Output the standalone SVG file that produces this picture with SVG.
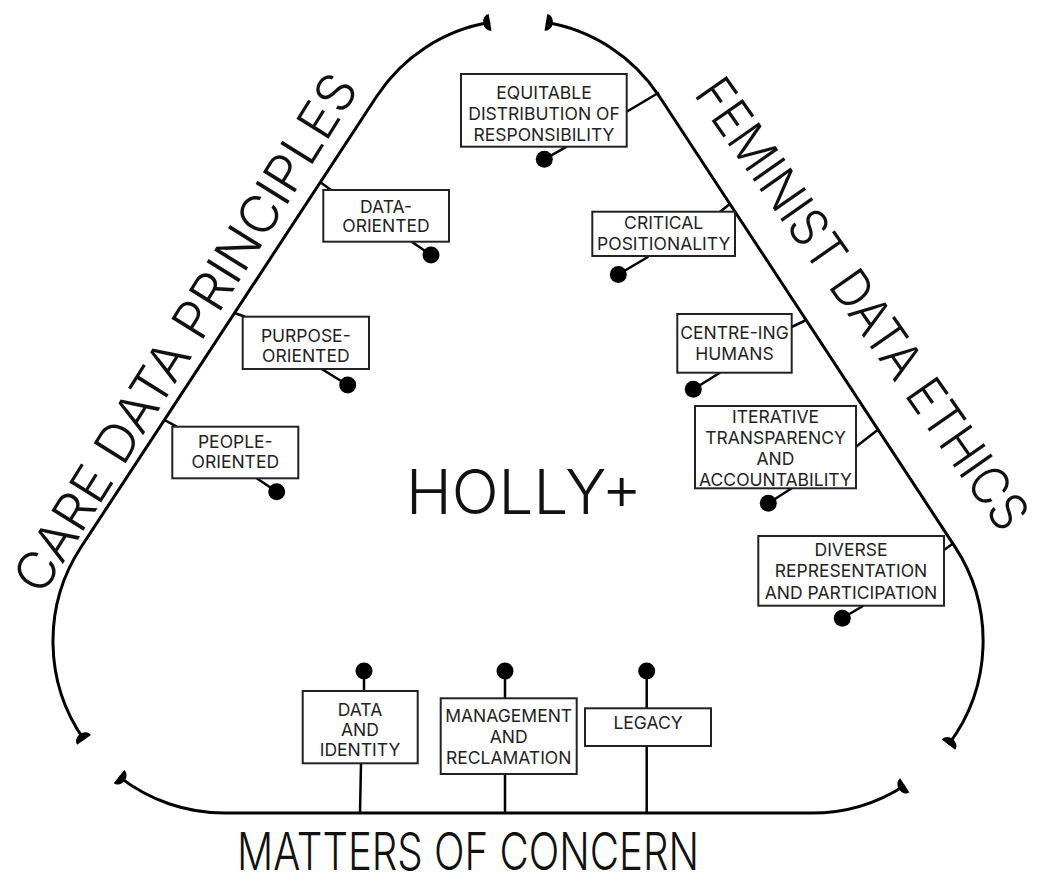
<svg xmlns="http://www.w3.org/2000/svg" width="1037" height="875" viewBox="0 0 1037 875">
<style>
.frame{fill:none;stroke:#000;stroke-width:3;marker-start:url(#cap);marker-end:url(#cap)}
.box{fill:#fff;stroke:#222;stroke-width:2}
.con{stroke:#000;stroke-width:2.5;fill:none}
.dot{fill:#000}
.lbl{font-family:Inter,"Liberation Sans",Arial,sans-serif;font-size:17.5px;fill:#222;text-anchor:middle}
.big{font-family:Inter,"Liberation Sans",Arial,sans-serif;font-weight:300;font-size:52px;fill:#111}
</style>
<defs>
<marker id="cap" viewBox="-8 -10 9 20" refX="0" refY="0" markerWidth="9" markerHeight="20" orient="auto-start-reverse" markerUnits="userSpaceOnUse">
<path d="M0,-8.5 A7,8.5 0 0 0 0,8.5 Z" fill="#000"/>
</marker>
</defs>
<rect width="1037" height="875" fill="#fff"/>
<g id="frame">
<path class="frame" d="M490.1,22.3 A169,169 0 0 0 376.6,96.5 L81.1,547 A172,172 0 0 0 84,739.8"/>
<path class="frame" d="M119,776.6 A172,172 0 0 0 224.9,813.1 L811.1,813.1 A172,172 0 0 0 904.8,785.4"/>
<path class="frame" d="M545.9,22.3 A169,169 0 0 1 659.4,96.5 L955,546.9 A172,172 0 0 1 948.5,744.6"/>
</g>
<g id="connectors">
<line class="con" x1="626.7" y1="111.7" x2="659" y2="92.5"/>
<line class="con" x1="320.1" y1="182" x2="331" y2="190"/>
<line class="con" x1="234.5" y1="313" x2="245" y2="316.7"/>
<line class="con" x1="164.5" y1="420" x2="176.7" y2="426.7"/>
<line class="con" x1="720" y1="211.7" x2="730.5" y2="203.5"/>
<line class="con" x1="791.7" y1="327" x2="806.3" y2="320"/>
<line class="con" x1="856" y1="446.7" x2="878.5" y2="429.3"/>
<line class="con" x1="944" y1="550" x2="953" y2="543.5"/>
<line class="con" x1="566.7" y1="146.7" x2="544.3" y2="159.3"/>
<line class="con" x1="411.7" y1="241.7" x2="431" y2="255"/>
<line class="con" x1="321.7" y1="369" x2="347.7" y2="385"/>
<line class="con" x1="256.7" y1="478.3" x2="276.7" y2="491.7"/>
<line class="con" x1="648.3" y1="256.7" x2="618.3" y2="274.5"/>
<line class="con" x1="720" y1="372.7" x2="693.3" y2="389.3"/>
<line class="con" x1="791.7" y1="488.3" x2="768.3" y2="503.3"/>
<line class="con" x1="863.3" y1="605.7" x2="842.3" y2="618.3"/>
<line class="con" x1="364" y1="671" x2="364" y2="691"/>
<line class="con" x1="361" y1="763.3" x2="360" y2="813"/>
<line class="con" x1="505" y1="671" x2="505" y2="698.3"/>
<line class="con" x1="505" y1="774" x2="505" y2="813"/>
<line class="con" x1="646.7" y1="671" x2="646.7" y2="708.3"/>
<line class="con" x1="646.7" y1="746" x2="646.7" y2="813"/>
<circle class="dot" cx="544.3" cy="159.3" r="8.5"/>
<circle class="dot" cx="431" cy="255" r="8.5"/>
<circle class="dot" cx="347.7" cy="385" r="8.5"/>
<circle class="dot" cx="276.7" cy="491.7" r="8.5"/>
<circle class="dot" cx="618.3" cy="274.5" r="8.5"/>
<circle class="dot" cx="693.3" cy="389.3" r="8.5"/>
<circle class="dot" cx="768.3" cy="503.3" r="8.5"/>
<circle class="dot" cx="842.3" cy="618.3" r="8.5"/>
<circle class="dot" cx="364" cy="671" r="8.5"/>
<circle class="dot" cx="505" cy="671" r="8.5"/>
<circle class="dot" cx="646.7" cy="671" r="8.5"/>
</g>
<g id="equitable">
<rect class="box" x="461" y="74" width="165.7" height="72.7"/>
<text class="lbl" x="544" y="98.7">EQUITABLE</text>
<text class="lbl" x="544" y="119.7">DISTRIBUTION OF</text>
<text class="lbl" x="544" y="140.7">RESPONSIBILITY</text>
</g>
<g id="data-oriented">
<rect class="box" x="323.3" y="190" width="125.7" height="51.7"/>
<text class="lbl" x="386" y="213.1">DATA-</text>
<text class="lbl" x="386" y="232.1">ORIENTED</text>
</g>
<g id="purpose-oriented">
<rect class="box" x="242.7" y="316.7" width="126.3" height="52.3"/>
<text class="lbl" x="305.8" y="342.1">PURPOSE-</text>
<text class="lbl" x="305.8" y="362.4">ORIENTED</text>
</g>
<g id="people-oriented">
<rect class="box" x="172.3" y="426.7" width="126" height="51.6"/>
<text class="lbl" x="235.3" y="448.1">PEOPLE-</text>
<text class="lbl" x="235.3" y="468.1">ORIENTED</text>
</g>
<g id="critical-positionality">
<rect class="box" x="592.3" y="211.7" width="142.7" height="44.3"/>
<text class="lbl" x="663.7" y="229.1">CRITICAL</text>
<text class="lbl" x="663.7" y="249.7">POSITIONALITY</text>
</g>
<g id="centre-ing-humans">
<rect class="box" x="677.3" y="314" width="114.4" height="58.7"/>
<text class="lbl" x="734.5" y="339.1">CENTRE-ING</text>
<text class="lbl" x="734.5" y="359.7">HUMANS</text>
</g>
<g id="iterative">
<rect class="box" x="695" y="406" width="161" height="82.3"/>
<text class="lbl" x="775.5" y="423.1">ITERATIVE</text>
<text class="lbl" x="775.5" y="443.7">TRANSPARENCY</text>
<text class="lbl" x="775.5" y="464.7">AND</text>
<text class="lbl" x="775.5" y="485.7">ACCOUNTABILITY</text>
</g>
<g id="diverse">
<rect class="box" x="758.3" y="536" width="185.7" height="69.7"/>
<text class="lbl" x="851" y="556.4">DIVERSE</text>
<text class="lbl" x="851" y="577.1">REPRESENTATION</text>
<text class="lbl" x="851" y="598.7">AND PARTICIPATION</text>
</g>
<g id="data-identity">
<rect class="box" x="302.7" y="691" width="115" height="72.3"/>
<text class="lbl" x="360" y="715.7">DATA</text>
<text class="lbl" x="360" y="736.4">AND</text>
<text class="lbl" x="360" y="756.4">IDENTITY</text>
</g>
<g id="management">
<rect class="box" x="440.7" y="698.3" width="136" height="75.7"/>
<text class="lbl" x="508.7" y="722.4">MANAGEMENT</text>
<text class="lbl" x="508.7" y="743.1">AND</text>
<text class="lbl" x="508.7" y="763.7">RECLAMATION</text>
</g>
<g id="legacy">
<rect class="box" x="585" y="708.3" width="126" height="37.7"/>
<text class="lbl" x="648" y="729.1">LEGACY</text>
</g>
<g id="holly">
<text x="406" y="514" font-family="Inter, Liberation Sans, Arial, sans-serif" font-weight="300" font-size="62" fill="#111" textLength="236" lengthAdjust="spacingAndGlyphs">HOLLY+</text>
</g>
<g id="care-data-principles">
<text class="big" transform="translate(42,597) rotate(-58)" textLength="600" lengthAdjust="spacingAndGlyphs">CARE DATA PRINCIPLES</text>
</g>
<g id="feminist-data-ethics">
<text class="big" transform="translate(693,94) rotate(55)" textLength="538" lengthAdjust="spacingAndGlyphs">FEMINIST DATA ETHICS</text>
</g>
<g id="matters-of-concern">
<text class="big" x="237" y="870" font-size="48" textLength="462" lengthAdjust="spacingAndGlyphs">MATTERS OF CONCERN</text>
</g>
</svg>
